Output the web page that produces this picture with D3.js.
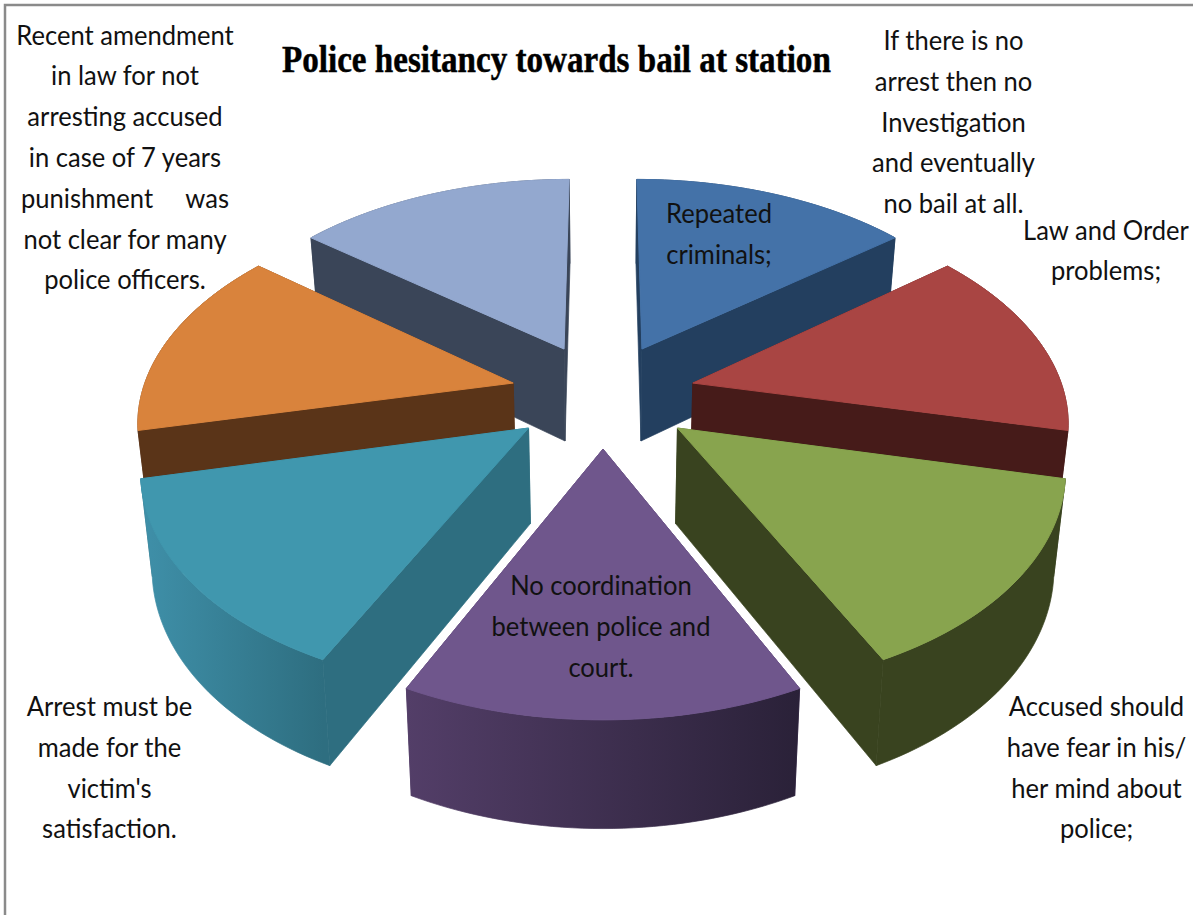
<!DOCTYPE html>
<html><head><meta charset="utf-8">
<script src="https://cdn.jsdelivr.net/npm/d3@7"></script>
<style>html,body{margin:0;padding:0;background:#fff;overflow:hidden}svg{display:block}</style>
</head><body><svg id="c" width="1193" height="915"></svg>
<script>
const titleText = "Police hesitancy towards bail at station";
const categories = ["Repeated criminals;","Law and Order problems;","Accused should have fear in his/ her mind about police;","No coordination between police and court.","Arrest must be made for the victim's satisfaction.","Recent amendment… (orange slice, unlabelled)","Recent amendment in law for not arresting accused in case of 7 years punishment was not clear for many police officers."];
const values = [1,1,1,1,1,1,1];
const topColors  = ["#4472a8","#a94543","#88a44e","#6f568c","#4097ae","#d9833c","#93a8cf"];
const wallColors = ["#233f5f","#461b19","#39431f","#4f3a63","#2e6e80","#5a3418","#3a4558"];
const arcLight   = ["#233f5f","#461b19","#39431f","#533e68","#3f90a9","#5a3418","#3a4558"];
const arcDark    = ["#233f5f","#461b19","#39431f","#2a2138","#2e6e80","#5a3418","#3a4558"];

const labelLines = [
  ["Recent amendment","in law for not","arresting accused","in case of 7 years","punishment     was","not clear for many","police officers."],
  ["If there is no","arrest then no","Investigation","and eventually","no bail at all."],
  ["Repeated","criminals;"],
  ["Law and Order","problems;"],
  ["Accused should","have fear in his/","her mind about","police;"],
  ["No coordination","between police and","court."],
  ["Arrest must be","made for the","victim's","satisfaction."]
];
const labelCenterX = [125,953.5,719,1106,1096.5,601,109.5];
const labelFirstBaseline = [44.5,50,223,239.5,716,595,716];

// camera model fitted to the picture
const cx=603, cy=394.6, F=371.6, K=209.3, D=6.39, EXPLODE=.25, DROP=94, SHRINK=.975;
function project(theta, r, mid, low){
  const X = r*Math.sin(theta)+EXPLODE*Math.sin(mid);
  const Y = -r*Math.cos(theta)-EXPLODE*Math.cos(mid);
  const s = D/(D-Y), b = low?SHRINK:1;
  return [cx+X*F*s*b, cy+Y*K*s*b+(low?DROP*s:0)];
}
const svg=d3.select("#c");
const defs=svg.append("defs");
svg.append("rect").attr("x",5).attr("y",5).attr("width",1300).attr("height",1300)
  .attr("fill","#fff").attr("stroke","#8a8a8a").attr("stroke-width",2.5);

const arcs=d3.pie().sort(null)(values).map((d,i)=>({...d,i,mid:(d.startAngle+d.endAngle)/2}));
const line=d3.line();
const STEPS=40;
const order=arcs.slice().sort((a,b)=>Math.cos(b.mid)-Math.cos(a.mid));

order.forEach(a=>{
  const g=svg.append("g");
  const ths=d3.range(STEPS+1).map(k=>a.startAngle+(a.endAngle-a.startAngle)*k/STEPS);
  const apexT=project(0,0,a.mid,false), apexB=project(0,0,a.mid,true);
  const topArc=ths.map(t=>project(t,1,a.mid,false));
  const lowArc=ths.map(t=>project(t,1,a.mid,true));
  const gid="arcg"+a.i;
  const lg=defs.append("linearGradient").attr("id",gid).attr("gradientUnits","userSpaceOnUse")
    .attr("x1",d3.min(topArc,p=>p[0])).attr("x2",d3.max(topArc,p=>p[0])).attr("y1",0).attr("y2",0);
  lg.append("stop").attr("offset",0).attr("stop-color",arcLight[a.i]);
  lg.append("stop").attr("offset",1).attr("stop-color",arcDark[a.i]);
  const wall=(th)=>[apexT,project(th,1,a.mid,false),project(th,1,a.mid,true),apexB];
  const faces=[
    {pts:wall(a.startAngle),fill:wallColors[a.i],z:-Math.cos(a.startAngle)*.5},
    {pts:wall(a.endAngle),fill:wallColors[a.i],z:-Math.cos(a.endAngle)*.5},
    {pts:topArc.concat(lowArc.slice().reverse()),fill:`url(#${gid})`,z:-Math.cos(a.mid)}
  ].sort((p,q)=>p.z-q.z);
  faces.forEach(f=>g.append("path").attr("d",line(f.pts)+"Z").attr("fill",f.fill)
    .attr("stroke",f.fill).attr("stroke-width",.7));
  g.append("path").attr("d",line([apexT,...topArc])+"Z").attr("fill",topColors[a.i])
    .attr("stroke",topColors[a.i]).attr("stroke-width",1).attr("stroke-linejoin","round");
});

const title=svg.append("text").text(titleText)
  .attr("font-family","'Liberation Serif'").attr("font-weight","bold").attr("font-size",38)
  .attr("fill","#000").attr("stroke","#000").attr("stroke-width",.5);
const natural=title.node().getComputedTextLength();
title.attr("transform",`translate(282,72) scale(${549/natural},1)`);

const LINE=40.8, SX=.93;
labelLines.forEach((ls,i)=>{
  ls.forEach((t,j)=>{
    svg.append("text").text(t).style("white-space","pre")
      .attr("transform",`translate(${labelCenterX[i]},${labelFirstBaseline[i]+j*LINE}) scale(${SX},1)`)
      .attr("text-anchor","middle").attr("font-family","Lato").attr("font-size",27.5).attr("fill","#111");
  });
});
</script></body></html>
